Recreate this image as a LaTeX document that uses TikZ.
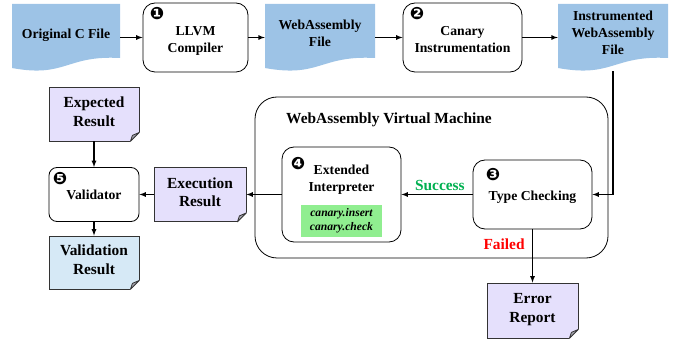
\documentclass[tikz,border=0pt]{standalone}
\usepackage{fontspec}
\setmainfont{Liberation Serif}
\newfontfamily\dingfont{DejaVu Sans}
\usepackage{tikz}

\definecolor{tapeblue}{RGB}{157,195,230}
\definecolor{resultpurple}{RGB}{229,224,252}
\definecolor{validblue}{RGB}{214,233,246}
\definecolor{canarygreen}{RGB}{144,238,144}
\definecolor{successgreen}{RGB}{0,176,80}
\definecolor{foldgray}{RGB}{165,165,175}

\newcommand{\stepnum}[1]{{\dingfont\fontsize{17}{17}\selectfont #1}}
\newcommand{\canaryfont}{\fontsize{11.6}{13.4}\selectfont\bfseries\itshape}
% text moved up (or down, if negative) inside its node
\newcommand{\shifted}[2]{\raisebox{0pt}[\dimexpr\height-#1\relax][\dimexpr\depth+#1\relax]{\begin{tabular}{@{}c@{}}#2\end{tabular}}}

\begin{document}
\begin{tikzpicture}
		[x=1pt, y=-1pt,
		every node/.style={font=\fontsize{13.7}{17}\selectfont\bfseries},
		biglabel/.style={font=\fontsize{15.4}{18.5}\selectfont\bfseries},
		procbox/.style={draw, line width=0.8pt, rounded corners=12pt, align=center, fill=white},
		docbox/.style={biglabel, draw=black!80, line width=0.8pt, minimum width=90pt, minimum height=54pt},
		tapebox/.style={fill=white, minimum height=67pt, inner sep=0pt,
			path picture={\fill[tapeblue] (path picture bounding box.north west) -- (path picture bounding box.north east)
				-- ([yshift=13pt]path picture bounding box.south east)
				.. controls ([yshift=16pt]path picture bounding box.south) and ([yshift=-7pt]path picture bounding box.south) ..
				([yshift=3pt]path picture bounding box.south west) -- cycle;}},
		vmbox/.style={draw, line width=0.8pt, rounded corners=22pt},
		flow/.style={-latex, line width=1.2pt},
		stepmark/.style={anchor=north west, inner sep=0pt}
		]
		\useasboundingbox (0,0) rectangle (678,339);

		% top row
		\node[tapebox, minimum width=108pt] (csrc) at (66,37.5) {\shifted{2.5pt}{Original C File}};
		\node[procbox, minimum width=105pt, minimum height=69pt,
			label={[stepmark, xshift=7pt, yshift=-5pt]north west:\stepnum{❶}}] (llvm) at (195.5,37.5) {\shifted{-3pt}{LLVM\\Compiler}};
		\node[tapebox, minimum width=110pt] (wasm) at (320,37.5) {\shifted{3pt}{WebAssembly\\File}};
		\node[procbox, minimum width=119pt, minimum height=69pt,
			label={[stepmark, xshift=7pt, yshift=-5pt]north west:\stepnum{❷}}] (canary) at (462.5,37.5) {\shifted{-3pt}{Canary\\Instrumentation}};
		\node[tapebox, minimum width=110pt] (instr) at (613,37.5) {\shifted{3.5pt}{Instrumented\\WebAssembly\\File}};

		% virtual machine
		\node[vmbox, minimum width=353pt, minimum height=161pt] (vm) at (431.5,177.5) {};
		\node[biglabel, anchor=west, inner sep=0pt] (vmtitle) at (286,120) {WebAssembly Virtual Machine};
		\node[procbox, minimum width=119pt, minimum height=95pt,
			label={[stepmark, xshift=9pt, yshift=-11pt]north west:\stepnum{❹}}] (interp) at (341.5,194.5)
			{\shifted{-5.5pt}{Extended\\Interpreter\\[8pt]\colorbox{canarygreen}{\canaryfont\begin{tabular}{@{\hspace{6pt}}c@{\hspace{6pt}}}canary.insert\\canary.check\end{tabular}}}};
		\node[procbox, minimum width=119pt, minimum height=69pt,
			label={[stepmark, xshift=13pt, yshift=-9pt]north west:\stepnum{❸}}] (tc) at (532.5,194.5) {\shifted{-3pt}{Type Checking}};

		% results
		\node[docbox, fill=resultpurple] (expected) at (94,114) {\shifted{0.5pt}{Expected\\Result}};
		\node[procbox, minimum width=90pt, minimum height=54pt, rounded corners=8pt,
			label={[stepmark, xshift=4pt, yshift=-5pt]north west:\stepnum{❺}}] (validator) at (94,194.5) {\shifted{-2pt}{Validator}};
		\node[docbox, fill=resultpurple, minimum width=92pt] (execres) at (200,194.5) {\shifted{0.5pt}{Execution\\Result}};
		\node[docbox, fill=validblue, minimum height=53pt] (valres) at (94,262.5) {\shifted{1pt}{Validation\\Result}};
		\node[docbox, fill=resultpurple, minimum width=91pt, minimum height=55pt] (errrep) at (532.5,310.5) {\shifted{1pt}{Error\\Report}};

		\foreach \n in {expected, execres, valres, errrep} {
			\fill[white] ([xshift=-10pt,yshift=-1pt]\n.south east) -- ([xshift=1pt,yshift=-1pt]\n.south east) -- ([xshift=1pt,yshift=10pt]\n.south east) -- cycle;
			\filldraw[fill=foldgray, draw=black!80, line width=0.8pt, line join=round] ([xshift=-9pt]\n.south east) -- ([yshift=9pt]\n.south east) -- ([xshift=-7pt,yshift=6pt]\n.south east) -- cycle;
		}

		\draw[flow] (csrc) -- (llvm);
		\draw[flow] (llvm) -- (wasm);
		\draw[flow] (wasm) -- (canary);
		\draw[flow] (canary) -- (instr);
		\draw[flow] (instr) |- (tc);
		\draw[flow] (tc) -- node[biglabel, above, pos=0.46, text=successgreen] (success) {Success} (interp);
		\draw[flow] (tc) -- node[biglabel, left=4pt, pos=0.28, text=red] (failed) {Failed} (errrep);
		\draw[flow] (interp) -- (execres);
		\draw[flow] (execres) -- (validator);
		\draw[flow] (expected) -- (validator);
		\draw[flow] (validator) -- (valres);
	\end{tikzpicture}
\end{document}
